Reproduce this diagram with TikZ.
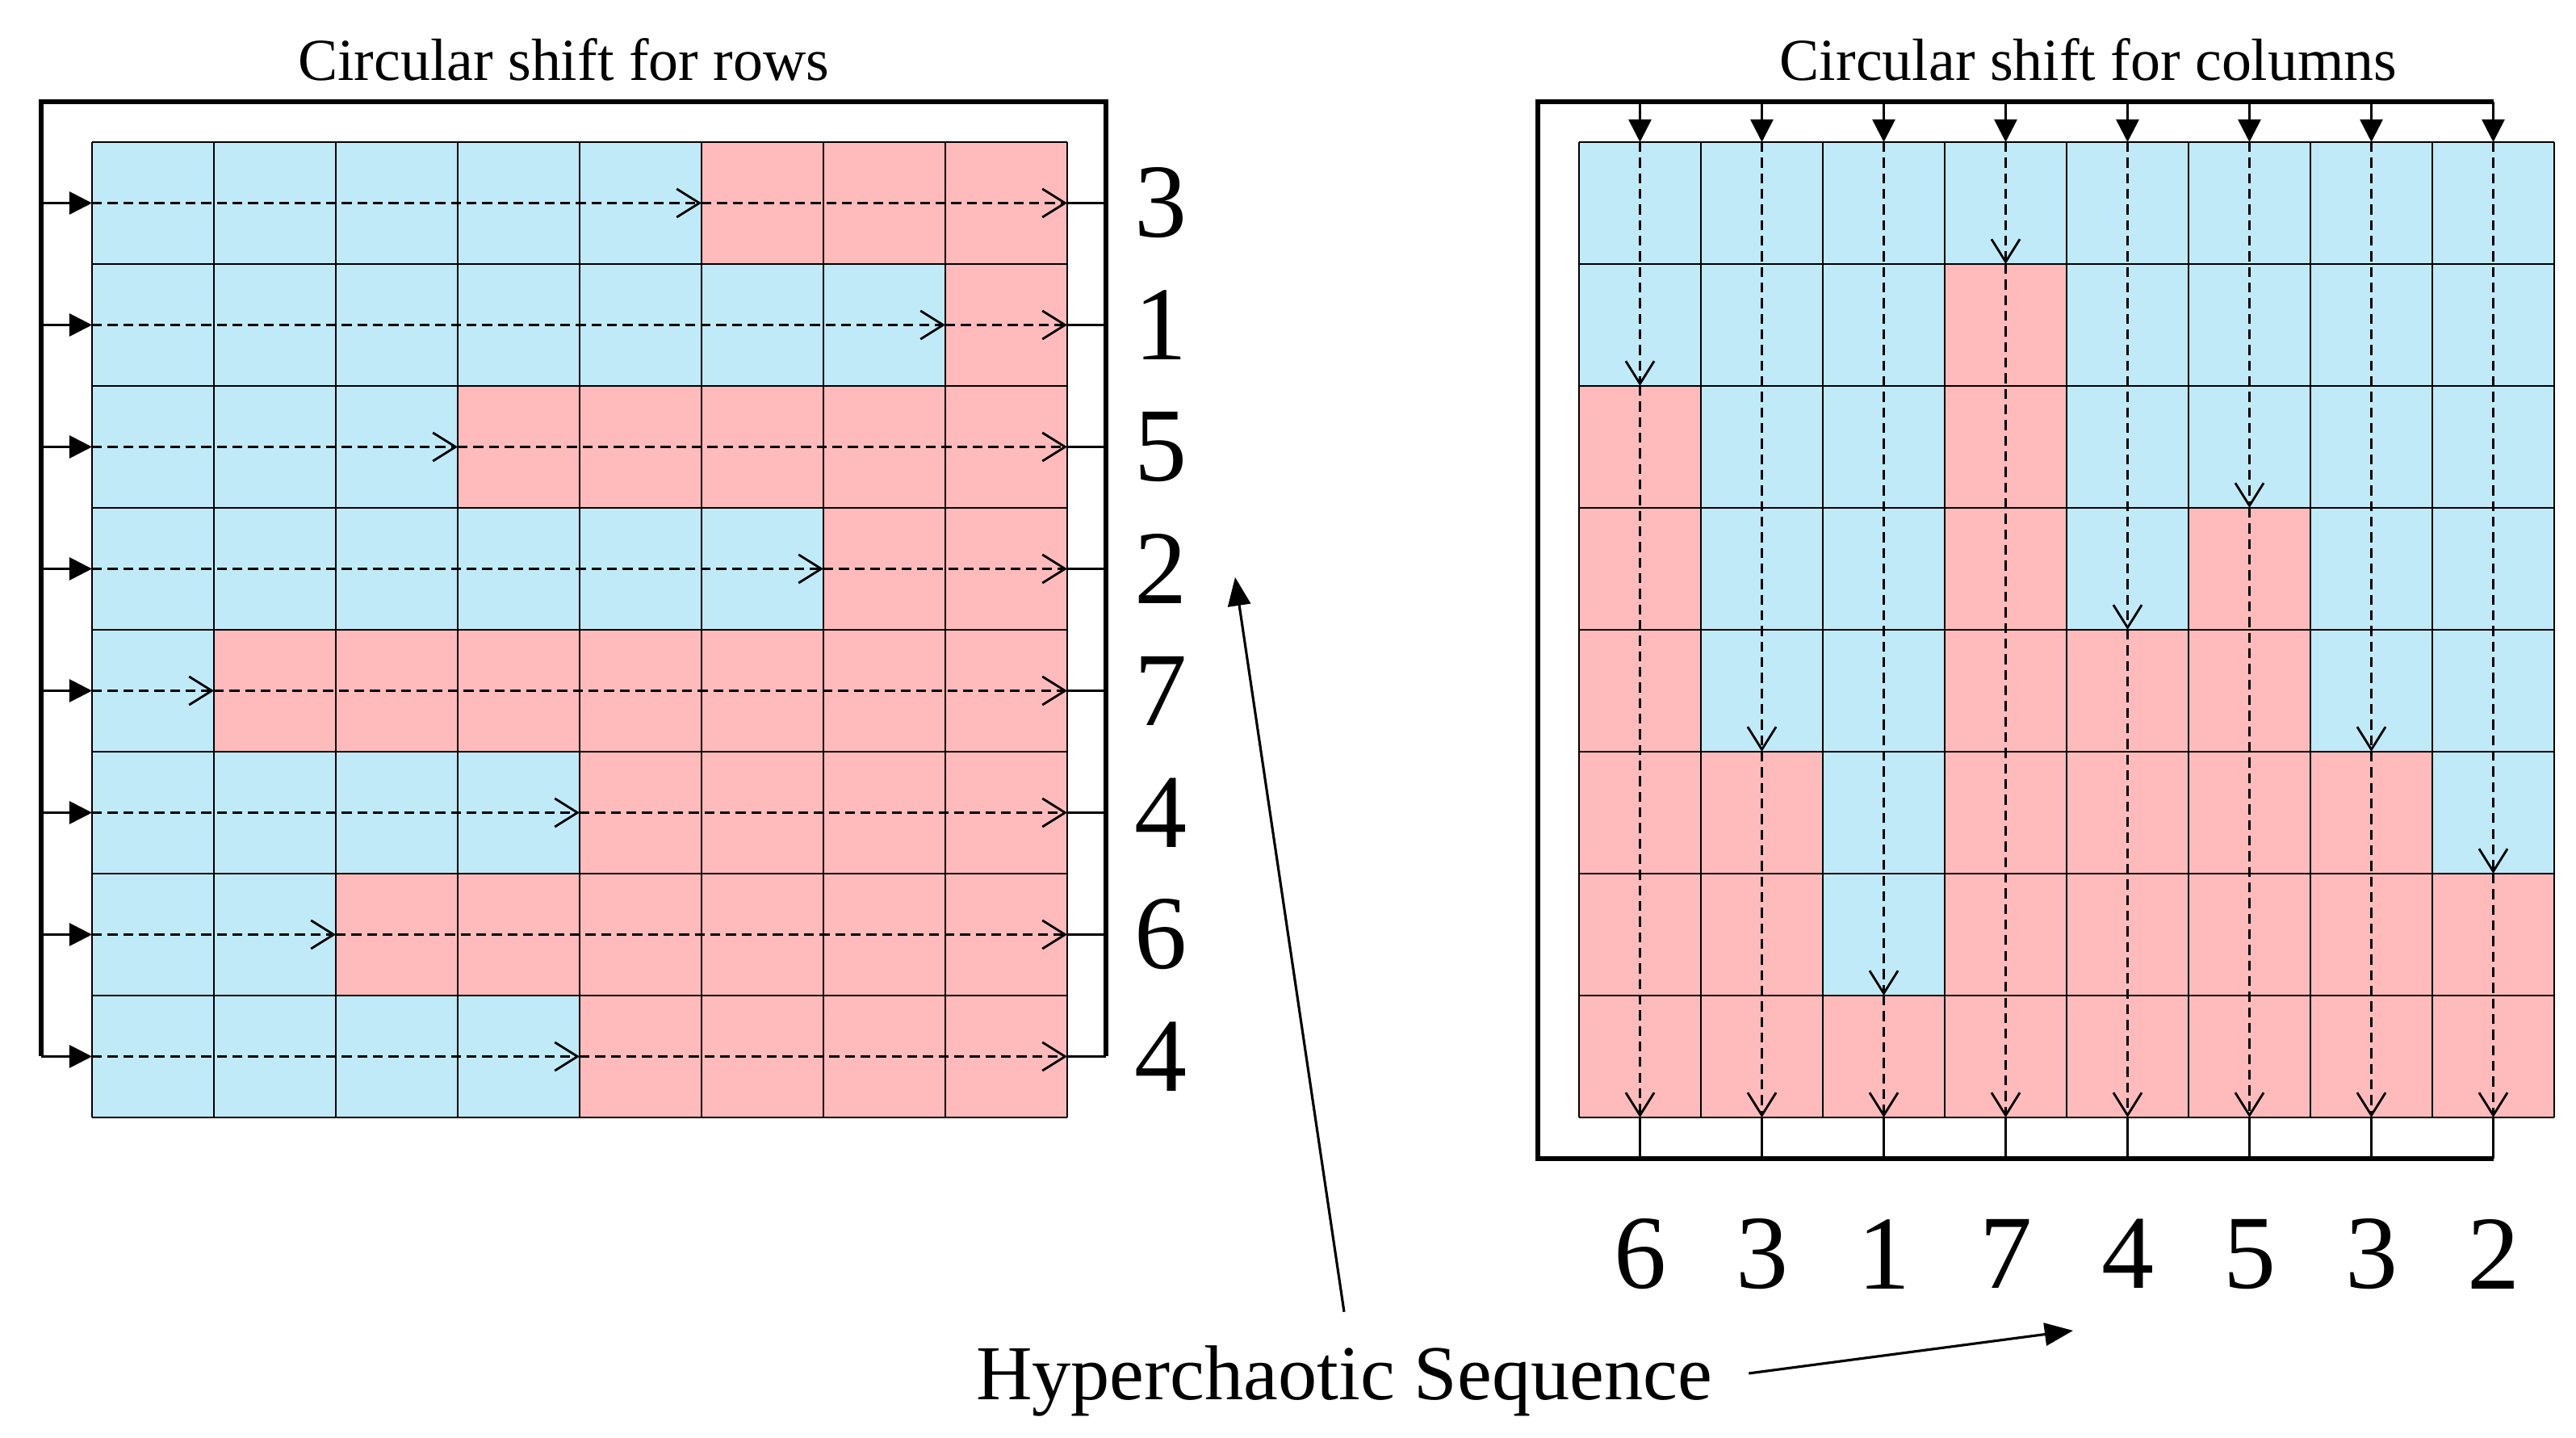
\documentclass[tikz,border=0pt]{standalone}
\usepackage{fontspec}
\setmainfont{Liberation Serif}
\usetikzlibrary{arrows.meta}
\definecolor{cellblue}{RGB}{192,234,248}
\definecolor{cellpink}{RGB}{255,187,187}
\tikzset{
  framepath/.style={line width=1.8pt},
  stub/.style={line width=0.8pt},
  feed/.style={stub,-{Triangle[length=8pt,width=8pt]}},
  shiftarrow/.style={line width=1.1pt,dash pattern=on 3.5pt off 2pt,
    -{Straight Barb[length=8pt,width=10pt,line width=0.8pt]}},
  bignum/.style={font=\fontsize{37}{40}\selectfont},
  headline/.style={font=\fontsize{21}{24}\selectfont,anchor=base},
  seqarrow/.style={line width=0.9pt,-{Triangle[length=10pt,width=8pt]}}
}
\begin{document}
\begin{tikzpicture}
\useasboundingbox (0,0) rectangle (31.91,17.81);
\newcommand\cellgrid{
\draw[line width=0.7pt] (0,0) grid (8,8);
}
% shift of the rows
\begin{scope}[shift={(1.14,3.97)},scale=1.51]
\foreach \k [count=\i] in {3,1,5,2,7,4,6,4} {
  \fill[cellblue] (0,8-\i) rectangle (8-\k,9-\i);
  \fill[cellpink] (8-\k,8-\i) rectangle (8,9-\i);
}
\cellgrid
\draw[framepath] (-0.417,0.5) |- (8.318,8.33) -- (8.318,0.5);
\foreach \k [count=\i] in {3,1,5,2,7,4,6,4} {
  \draw[feed] (-0.417,8.5-\i) -- (0,8.5-\i);
  \draw[shiftarrow] (0,8.5-\i) -- (8-\k,8.5-\i);
  \draw[shiftarrow] (8-\k,8.5-\i) -- (8,8.5-\i);
  \draw[stub] (8,8.5-\i) -- (8.318,8.5-\i);
  \node[bignum] (rn\i) at (8.77,8.5-\i) {\k};
}
\end{scope}
% shift of the columns
\begin{scope}[shift={(19.56,3.97)},scale=1.51]
\foreach \n [count=\j] in {6,3,1,7,4,5,3,2} {
  \fill[cellblue] (\j-1,\n) rectangle (\j,8);
  \fill[cellpink] (\j-1,0) rectangle (\j,\n);
}
\cellgrid
\draw[framepath] (7.5,8.33) -| (-0.338,-0.338) -- (7.5,-0.338);
\foreach \n [count=\j] in {6,3,1,7,4,5,3,2} {
  \draw[feed] (\j-0.5,8.33) -- (\j-0.5,8);
  \draw[shiftarrow] (\j-0.5,8) -- (\j-0.5,\n);
  \draw[shiftarrow] (\j-0.5,\n) -- (\j-0.5,0);
  \draw[stub] (\j-0.5,0) -- (\j-0.5,-0.338);
  \node[bignum] (cn\j) at (\j-0.5,-1.12) {\n};
}
\end{scope}
\node[headline] (rowtitle) at (6.98,16.81) {Circular shift for rows};
\node[headline] (coltitle) at (25.87,16.81) {Circular shift for columns};
\node[font=\fontsize{27.4}{30}\selectfont,anchor=base] (seq) at (16.65,0.47) {Hyperchaotic Sequence};
\coordinate (rowtip) at (15.30,10.66);
\coordinate (coltip) at (25.68,1.33);
\draw[seqarrow] ([yshift=0.3cm]seq.north) -- (rowtip);
\draw[seqarrow] ([xshift=0.33cm,yshift=0.1cm]seq.east) -- (coltip);
\end{tikzpicture}
\end{document}
